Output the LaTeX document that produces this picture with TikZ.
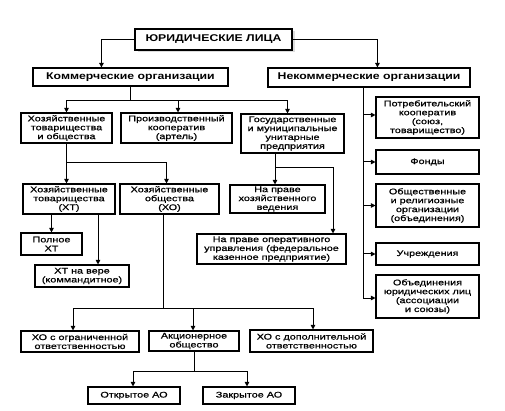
\documentclass[tikz,border=0pt]{standalone}
\usepackage{fontspec}
\setmainfont{Liberation Sans}[FakeStretch=1.32,FakeBold=0.7]
\newfontfamily\titf{Liberation Sans}[FakeStretch=1.25]
\usetikzlibrary{arrows.meta,shadows}
\begin{document}
\begin{tikzpicture}[x=1pt,y=-1pt,
  box/.style={draw=black, line width=1.1pt, fill=white, align=center, inner sep=1pt,
    font=\fontsize{8.2}{8.9}\selectfont},
  tbox/.style={box, font=\titf\bfseries\fontsize{9.8}{10}\selectfont},
  arr/.style={line width=1pt, -{Triangle[length=4.5pt,width=4.5pt]}},
  ln/.style={line width=1pt}]
\useasboundingbox (0,0) rectangle (505,411);
% titles
\node[tbox, minimum width=157pt, minimum height=21pt,
  drop shadow={shadow xshift=2.5pt, shadow yshift=-2.5pt, fill=gray!55}] (top) at (213.5,39.5) {ЮРИДИЧЕСКИЕ ЛИЦА};
\node[tbox, minimum width=195pt, minimum height=18pt] (kom) at (130.5,77) {Коммерческие организации};
\node[tbox, minimum width=202pt, minimum height=19pt] (nekom) at (369,77.5) {Некоммерческие организации};
% commercial
\node[box, minimum width=91pt, minimum height=30pt] (hto) at (66.5,128) {Хозяйственные\\товарищества\\и общества};
\node[box, minimum width=111pt, minimum height=30pt] (pk) at (176.5,128) {Производственный\\кооператив\\(артель)};
\node[box, minimum width=103pt, minimum height=39pt] (gup) at (292.5,133.5) {Государственные\\и муниципальные\\унитарные\\предприятия};
\node[box, minimum width=92pt, minimum height=30pt] (ht) at (69,199) {Хозяйственные\\товарищества\\(ХТ)};
\node[box, minimum width=99pt, minimum height=30pt] (ho) at (169.5,199) {Хозяйственные\\общества\\(ХО)};
\node[box, minimum width=61pt, minimum height=22pt] (poln) at (51.5,244) {Полное\\ХТ};
\node[box, minimum width=94pt, minimum height=22pt] (vera) at (82,276) {ХТ на вере\\(коммандитное)};
\node[box, minimum width=95pt, minimum height=28pt] (hozved) at (277.5,199) {На праве\\хозяйственного\\ведения};
\node[box, minimum width=149pt, minimum height=30pt] (oper) at (271.5,249) {На праве оперативного\\управления (федеральное\\казенное предприятие)};
\node[box, minimum width=118pt, minimum height=21pt] (ooo) at (80,341.5) {ХО с ограниченной\\ответственностью};
\node[box, minimum width=90pt, minimum height=20pt] (ao) at (194,341) {Акционерное\\общество};
\node[box, minimum width=123pt, minimum height=22pt] (odo) at (311.5,341) {ХО с дополнительной\\ответственностью};
\node[box, minimum width=92pt, minimum height=17pt] (oao) at (134,395.5) {Открытое АО};
\node[box, minimum width=92pt, minimum height=17pt] (zao) at (249,395.5) {Закрытое АО};
% non-commercial
\node[box, minimum width=103pt, minimum height=41pt] (pot) at (427.5,117.5) {Потребительский\\кооператив\\(союз,\\товарищество)};
\node[box, minimum width=103pt, minimum height=24pt] (fond) at (427.5,162) {Фонды};
\node[box, minimum width=103pt, minimum height=43pt] (obsh) at (427.5,205.5) {Общественные\\и религиозные\\организации\\(объединения)};
\node[box, minimum width=103pt, minimum height=22pt] (uchr) at (427.5,254) {Учреждения};
\node[box, minimum width=103pt, minimum height=43pt] (obed) at (427.5,296.5) {Объединения\\юридических лиц\\(ассоциации\\и союзы)};
% connectors
\draw[arr] (top.west) -| ([xshift=69pt]kom.north west);
\draw[arr] (top.east) -| ([xshift=110pt]nekom.north west);
\draw[arr] (kom.south) -- ++(0,14) -| (hto.north);
\draw[arr] (kom.south) -- ++(0,14) -| ([xshift=1.5pt]pk.north);
\draw[arr] (kom.south) -- ++(0,14) -| ([xshift=-5pt]gup.north);
\draw[arr] (hto.south) -- (hto.south |- ht.north);
\draw[arr] (hto.south) -- ++(0,19) -| ([xshift=-3pt]ho.north);
\draw[arr] (ht.south -| poln.north) -- (poln.north);
\draw[arr] ([xshift=29pt]ht.south) -- ([xshift=29pt]ht.south |- vera.north);
\draw[arr] ([xshift=-6.5pt]ho.south) -- ++(0,94) -| ([xshift=-7pt]ooo.north);
\draw[arr] ([xshift=-6.5pt]ho.south) -- ++(0,94) -| ([xshift=-1pt]ao.north);
\draw[arr] ([xshift=-6.5pt]ho.south) -- ++(0,94) -| ([xshift=1.5pt]odo.north);
\draw[arr] (ao.south) -- ++(0,20) -| ([xshift=-1pt]oao.north);
\draw[arr] (ao.south) -- ++(0,20) -| ([xshift=-2pt]zao.north);
\draw[arr] ([xshift=-17.5pt]gup.south) -- ([xshift=-17.5pt]gup.south |- hozved.north);
\draw[arr] ([xshift=-17.5pt]gup.south) -- ++(0,14) -| ([xshift=61.5pt]oper.north);
\draw[arr] ([xshift=-6pt]nekom.south) |- ([yshift=2.5pt]pot.west);
\draw[arr] ([xshift=-6pt]nekom.south) |- (fond.west);
\draw[arr] ([xshift=-6pt]nekom.south) |- (obsh.west);
\draw[arr] ([xshift=-6pt]nekom.south) |- (uchr.west);
\draw[arr] ([xshift=-6pt]nekom.south) |- ([yshift=-1.5pt]obed.west);
\end{tikzpicture}
\end{document}
